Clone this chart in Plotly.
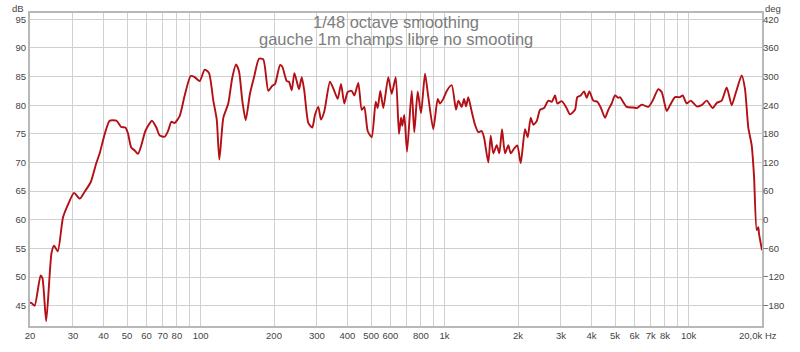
import plotly.graph_objects as go
import math

# Frequency response (Hz, dB)
freq_hz = [20, 20.4, 20.9, 22.1, 22.5, 23.3, 24.5, 25.1, 26.0, 27.3,
           28.6, 30.3, 32.0, 33.5, 35.5, 37.4, 38.6, 40.5, 42.4, 45.2,
           47.3, 49.2, 50.4, 52.0, 53.7, 55.4, 57.2, 59.4, 63.2, 65.9,
           68.0, 71.3, 73.6, 75.9, 78.3, 82.1, 86.1, 91.1, 94.6, 99.2,
           104, 108.3, 112.8, 116.5, 119.4, 124, 129.9, 134.9, 139.7, 143.8,
           148.3, 153.1, 159.4, 166.1, 173.6, 180.8, 189.5, 196.8, 201.9, 211.7,
           216.3, 225.5, 230.4, 236.4, 242.4, 247.8, 253.3, 259.8, 266.2, 276.5,
           287, 294.4, 303.8, 311.6, 321.4, 339.2, 353.2, 364.8, 376.4, 388.4,
           401, 416.4, 426.8, 443.2, 457.6, 469, 484.2, 502.8, 522.2, 532.2,
           545.4, 561, 588, 607.4, 630.8, 650.6, 663, 671.2, 684, 701.8,
           733.4, 751.6, 776.2, 800.8, 831.6, 858, 899.4, 937.6, 958, 988.4,
           1021, 1070, 1114, 1139, 1176, 1202, 1225, 1251, 1292, 1333,
           1375, 1420, 1451, 1511, 1546, 1584, 1636, 1677, 1720, 1769,
           1825, 1867, 1926, 1986, 2052, 2137, 2192, 2255, 2311, 2386,
           2462, 2557, 2662, 2749, 2836, 2898, 3022, 3146, 3267, 3425,
           3500, 3614, 3729, 3826, 3921, 4071, 4227, 4377, 4545, 4690,
           4842, 4995, 5154, 5236, 5580, 5938, 6148, 6428, 6840, 7129,
           7516, 7761, 8136, 8395, 8800, 9226, 9464, 9828, 10206, 10800,
           11322, 11868, 12562, 13044, 13674, 14334, 15026, 15650, 16514, 17036,
           17576, 18148, 18546, 19026, 19314, 19440, 20000]

spl_db = [45.6, 45.4, 45.0, 50.3, 49.8, 42.3, 54.2, 55.5, 54.5, 60.4,
          62.6, 64.7, 63.7, 64.9, 66.6, 69.9, 71.6, 75.0, 77.3, 77.3,
          76.2, 76.1, 75.1, 72.6, 72.1, 71.5, 73.0, 75.5, 77.3, 76.1,
          74.7, 74.5, 75.5, 77.1, 76.9, 78.1, 81.7, 85.1, 84.9, 84.2,
          86.2, 85.6, 80.8, 77.5, 70.5, 77.8, 80.3, 84.8, 87.1, 85.9,
          80.8, 77.4, 82.0, 85.1, 88.1, 88.0, 82.5, 83.4, 83.7, 87.0,
          86.7, 84.2, 84.1, 82.6, 85.6, 84.2, 82.8, 84.9, 82.5, 76.9,
          76.1, 78.3, 79.7, 77.5, 78.9, 84.1, 82.5, 81.1, 83.7, 80.3,
          82.3, 82.5, 81.7, 83.9, 79.2, 79.7, 75.5, 74.4, 80.6, 79.5,
          82.5, 79.5, 84.9, 82.0, 84.9, 75.0, 77.8, 76.4, 78.3, 71.9,
          82.5, 75.3, 82.4, 78.6, 85.5, 81.4, 75.8, 81.1, 80.3, 81.1,
          82.5, 83.5, 79.2, 80.8, 79.7, 81.1, 79.8, 81.4, 78.9, 76.6,
          75.3, 75.5, 74.4, 70.0, 74.7, 71.6, 73.0, 71.6, 75.8, 71.6,
          73.0, 71.6, 72.4, 73.0, 69.9, 75.8, 74.4, 77.8, 76.6, 77.2,
          79.2, 79.5, 80.8, 80.6, 81.7, 80.3, 80.7, 79.7, 78.4, 79.2,
          81.4, 81.7, 82.4, 81.3, 82.4, 80.8, 80.6, 79.5, 77.8, 79.2,
          80.3, 81.7, 81.3, 81.4, 79.7, 79.6, 79.5, 80.1, 79.7, 80.8,
          82.8, 82.3, 79.0, 80.0, 81.4, 81.4, 81.7, 80.3, 80.8, 79.8,
          80.0, 80.8, 79.5, 80.4, 80.8, 83.1, 80.0, 82.3, 85.2, 82.8,
          76.1, 73.0, 67.7, 58.2, 58.7, 57.6, 54.7]

x_tickvals = [20, 30, 40, 50, 60, 70, 80, 90,
              100, 200, 300, 400, 500, 600, 700, 800, 900,
              1000, 2000, 3000, 4000, 5000, 6000, 7000, 8000, 9000,
              10000, 20000]
x_ticktext = ["20", "30", "40", "50", "60", "70", "80", "",
              "100", "200", "300", "400", "500", "600", "", "800", "",
              "1k", "2k", "3k", "4k", "5k", "6k", "7k", "8k", "",
              "10k", ""]
db_ticks = [45, 50, 55, 60, 65, 70, 75, 80, 85, 90, 95]
deg_ticks = [-180, -120, -60, 0, 60, 120, 180, 240, 300, 360, 420]

title_lines = ["1/48 octave smoothing", "gauche 1m champs libre no smooting"]

DB_RANGE = [41.47, 96.09]
# right axis: 45 dB <-> -180 deg, 95 dB <-> 420 deg
DEG_RANGE = [(DB_RANGE[0] - 45) * 12 - 180, (DB_RANGE[1] - 45) * 12 - 180]

GRID = "#d0d0d0"
AXLINE = "#b8b8b8"
TICKFONT = dict(family="Liberation Sans, Arial, sans-serif", size=9.5, color="#444444")
TITLEFONT = dict(family="Liberation Sans, Arial, sans-serif", size=16.5, color="#7d7d7d")

fig = go.Figure()
fig.add_trace(go.Scatter(
    x=freq_hz, y=spl_db, mode="lines",
    line=dict(color="#b30f14", width=1.9, shape="spline", smoothing=0.6),
    showlegend=False, hoverinfo="x+y"))
fig.add_trace(go.Scatter(
    x=[20], y=[0], yaxis="y2", mode="markers",
    marker=dict(opacity=0), showlegend=False, hoverinfo="skip"))

fig.update_layout(
    width=800, height=352,
    margin=dict(l=30, r=38, t=11, b=16, pad=0),
    paper_bgcolor="white", plot_bgcolor="white",
    xaxis=dict(type="log", range=[math.log10(20), math.log10(20000)],
               tickvals=x_tickvals, ticktext=x_ticktext, tickfont=TICKFONT,
               showgrid=True, gridcolor=GRID, gridwidth=1,
               showline=True, linecolor=AXLINE, linewidth=2, mirror=True,
               ticks="", zeroline=False),
    yaxis=dict(range=DB_RANGE, tickvals=db_ticks, tickfont=TICKFONT,
               showgrid=True, gridcolor=GRID, gridwidth=1,
               showline=True, linecolor=AXLINE, linewidth=2, mirror=True,
               ticks="", zeroline=False),
    yaxis2=dict(range=DEG_RANGE, tickvals=deg_ticks, tickfont=TICKFONT,
                overlaying="y", side="right", showgrid=False,
                showline=False, ticks="", zeroline=False),
    annotations=[
        dict(text=title_lines[0], xref="paper", yref="paper", x=0.5, y=0.9723,
             xanchor="center", yanchor="middle", showarrow=False, font=TITLEFONT),
        dict(text=title_lines[1], xref="paper", yref="paper", x=0.5, y=0.918,
             xanchor="center", yanchor="middle", showarrow=False, font=TITLEFONT),
        dict(text="dB", xref="paper", yref="paper", x=-0.005, y=1.0,
             xanchor="right", yanchor="bottom", showarrow=False, yshift=-3,
             font=TICKFONT),
        dict(text="deg", xref="paper", yref="paper", x=1.0, y=1.0,
             xanchor="left", yanchor="bottom", showarrow=False, yshift=-3, xshift=1,
             font=TICKFONT),
        dict(text="20,0k Hz", xref="x", yref="paper", x=math.log10(20000), y=0,
             xanchor="center", yanchor="top", showarrow=False, xshift=-4, yshift=-2,
             font=TICKFONT),
    ],
)

fig.write_html("out.html")
